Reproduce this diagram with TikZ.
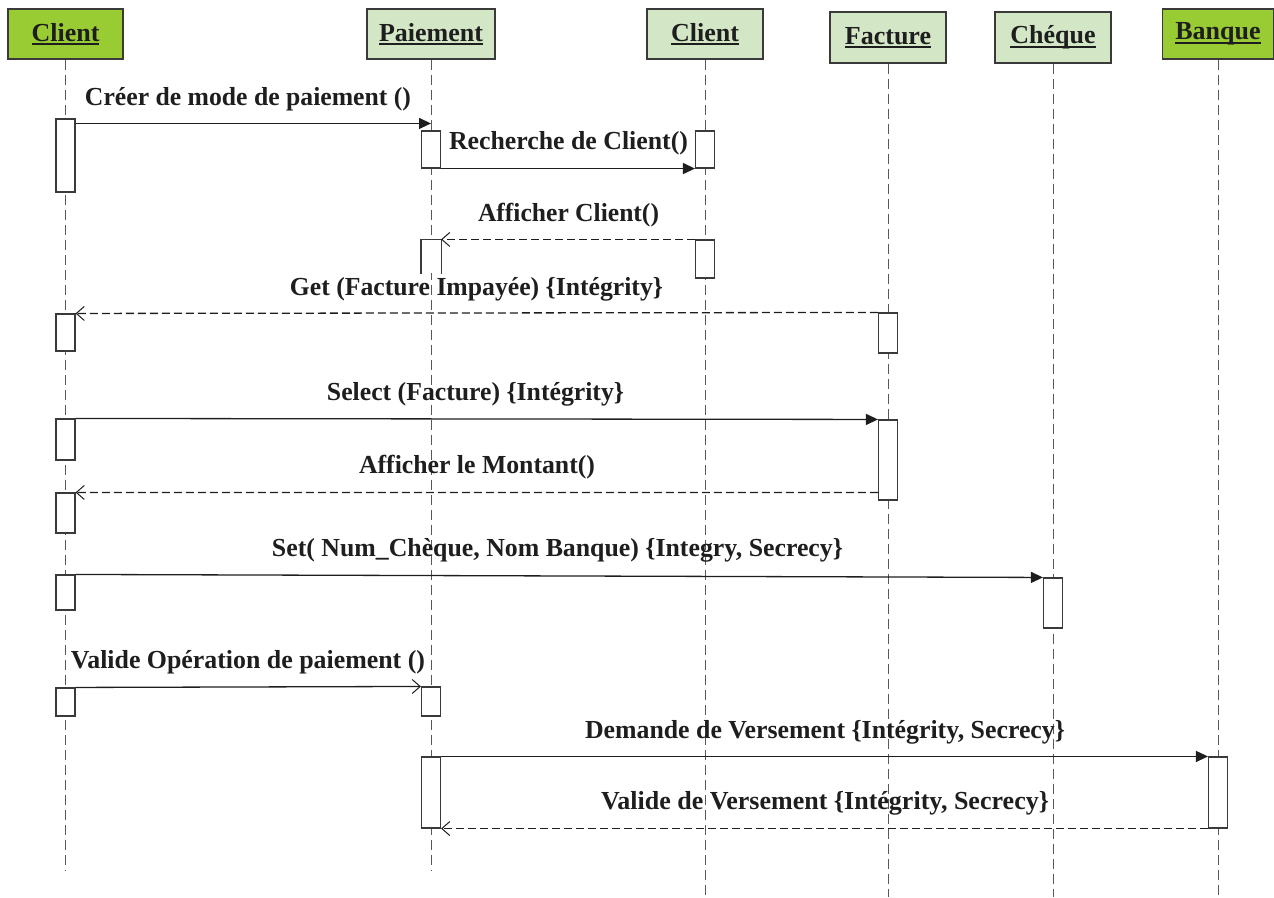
\documentclass[tikz,border=0pt]{standalone}
\usepackage{fontspec}
\setmainfont{Liberation Serif}
\usetikzlibrary{arrows.meta,calc}
\definecolor{actorgreen}{HTML}{99CC33}
\definecolor{classgreen}{HTML}{D3E7C6}
\definecolor{ink}{HTML}{1E1E1E}
\definecolor{edgegray}{HTML}{3A3A3A}
% underlined heading text
\newcommand\hdr[1]{\setbox0=\hbox{#1}\rlap{\rule[-4pt]{\wd0}{2pt}}\box0}
% message label set to a given width
\newcommand\lbl[2]{\resizebox{#1pt}{\height}{#2}}
\begin{document}
\begin{tikzpicture}[x=1pt,y=-1pt,
  head/.style={draw=edgegray, line width=1.3pt, minimum height=50, inner sep=0,
    font=\fontsize{26}{30}\selectfont\bfseries, text=ink},
  actor/.style={head, fill=actorgreen},
  object/.style={head, fill=classgreen},
  life/.style={draw=edgegray!85, line width=1pt, dash pattern=on 10pt off 5pt},
  act/.style={draw=edgegray, fill=white, line width=1.1pt, minimum width=19, inner sep=0},
  call/.style={draw=ink, line width=1.3pt, -{Triangle[length=12pt,width=11pt]}},
  send/.style={draw=ink, line width=1.3pt, -{Straight Barb[length=8pt,width=14pt,line width=1pt]}},
  reply/.style={draw=ink, line width=1.3pt, dash pattern=on 8pt off 4pt,
    -{Straight Barb[length=8pt,width=14pt,line width=1pt]}},
  msg/.style={anchor=base, inner sep=0, font=\fontsize{26}{30}\selectfont\bfseries, text=ink},
]
\useasboundingbox (0,0) rectangle (1274,897);

% heads
\node[actor,  minimum width=115] (hc1) at (65.5,34) {\hdr{Client}};
\node[object, minimum width=128] (hp)  at (431,34) {\hdr{Paiement}};
\node[object, minimum width=116] (hk)  at (705,34) {\hdr{Client}};
\node[object, minimum width=116, minimum height=51] (hf) at (888,37.5) {\hdr{Facture}};
\node[object, minimum width=116, minimum height=51] (hq) at (1053,37.5) {\hdr{Chéque}};
\node[actor,  minimum width=111] (hb)  at (1218,34) {\hdr{Banque}};

% lifeline ends
\coordinate (ec1) at (65.5,870);
\coordinate (ep)  at (431,870);
\coordinate (ek)  at (705,897);
\coordinate (ef)  at (888,897);
\coordinate (eq)  at (1053,897);
\coordinate (eb)  at (1218,897);
\draw[life] (hc1.south) -- (ec1);
\draw[life] (hp.south) -- (ep);
\draw[life] (hk.south) -- (ek);
\draw[life] (hf.south) -- (ef);
\draw[life] (hq.south) -- (eq);
\draw[life] (hb.south) -- (eb);

% activations
\newcommand\activ[4]{\node[act, minimum height={#4-#3}] (#1) at (#2,{(#3+#4)/2}) {};}
\activ{c1a}{65.5}{119}{192}
\activ{c1b}{65.5}{314}{351}
\activ{c1c}{65.5}{419}{460}
\activ{c1d}{65.5}{493}{533}
\activ{c1e}{65.5}{575}{610}
\activ{c1f}{65.5}{688}{716}
\activ{p1}{431}{131}{168}
\node[act, draw=none, minimum height=33] (p2) at (431,256.5) {};
\draw[edgegray, line width=1.1pt] (p2.south west) -- (p2.north west) -- (p2.north east) -- (p2.south east);
\activ{p3}{431}{687}{716}
\activ{p4}{431}{757}{828}
\activ{k1}{705}{131}{168}
\activ{k2}{705}{240}{278}
\activ{f1}{888}{313}{353}
\activ{f2}{888}{420}{500}
\activ{q1}{1053}{578}{628}
\activ{b1}{1218}{757}{828}

% messages
\coordinate (m1from) at ([yshift=-5]c1a.north east);
\draw[call] (m1from) -- (m1from -| hp.south);
\draw[call] (p1.south east) -- (k1.south west);
\draw[reply] (k2.north west) -- (p2.north east);
\draw[reply] (f1.north west) -- (c1b.north east);
\draw[call] (c1c.north east) -- (f2.north west);
\coordinate (m6from) at ([yshift=8]f2.south west);
\draw[reply] (m6from) -- (c1d.north east);
\draw[call] (c1e.north east) -- (q1.north west);
\draw[send] (c1f.north east) -- (p3.north west);
\draw[call] (p4.north east) -- (b1.north west);
\draw[reply] (b1.south west) -- (p4.south east);

% labels
\node[msg] (t1)  at (248,105)   {\lbl{326}{Créer de mode de paiement ()}};
\node[msg] (t2)  at (568.5,149) {\lbl{239}{Recherche de Client()}};
\node[msg] (t3)  at (568.5,221) {\lbl{181}{Afficher Client()}};
\node[msg] (t4)  at (476.5,295) {\lbl{373}{Get (Facture Impayée) \{Intégrity\}}};
\node[msg] (t5)  at (475.5,400) {\lbl{297}{Select (Facture) \{Intégrity\}}};
\node[msg] (t6)  at (477,473)   {\lbl{236}{Afficher le Montant()}};
\node[msg] (t7)  at (557.5,556) {\lbl{571}{Set( Num\_Chèque, Nom Banque) \{Integry, Secrecy\}}};
\node[msg] (t8)  at (248,668)   {\lbl{354}{Valide Opération de paiement ()}};
\node[msg] (t9)  at (825,738)   {\lbl{480}{Demande de Versement \{Intégrity, Secrecy\}}};
\node[msg] (t10) at (825,809)   {\lbl{448}{Valide de Versement \{Intégrity, Secrecy\}}};
\end{tikzpicture}
\end{document}
